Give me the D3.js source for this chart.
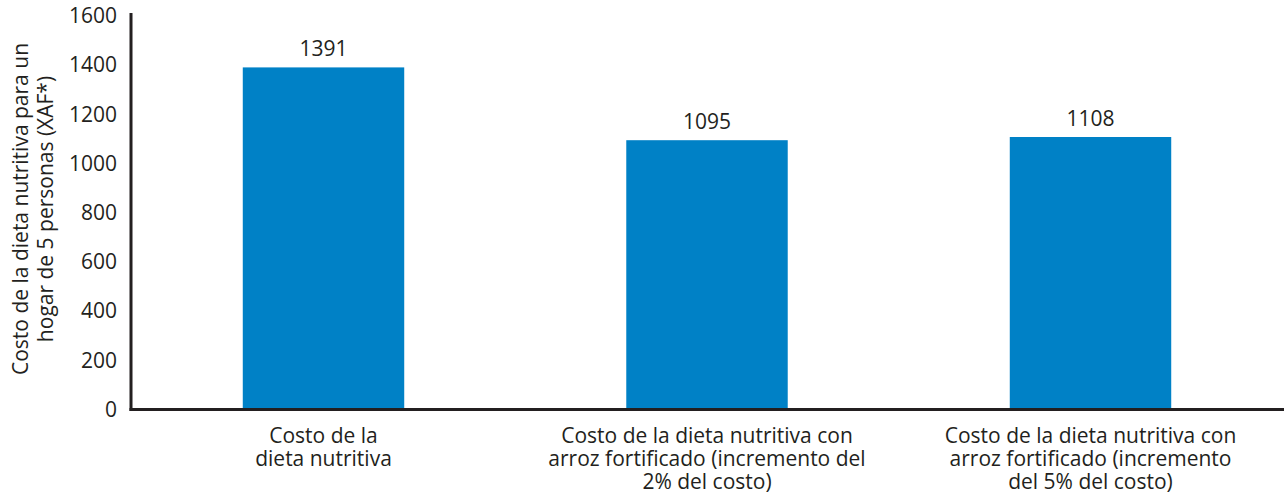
<!DOCTYPE html>
<html>
<head>
<meta charset="utf-8">
<script src="https://cdn.jsdelivr.net/npm/d3@7"></script>
<style>
  html, body { margin: 0; padding: 0; background: #fff; }
  svg { display: block; font-family: "Open Sans", sans-serif; }
</style>
</head>
<body>
<svg id="chart" width="1284" height="492"></svg>
<script>
// Cost of the nutritious diet for a household of 5 (XAF)
const categories = [
  ["Costo de la", "dieta nutritiva"],
  ["Costo de la dieta nutritiva con", "arroz fortificado (incremento del", "2% del costo)"],
  ["Costo de la dieta nutritiva con", "arroz fortificado (incremento", "del 5% del costo)"]
];
const values = [1391, 1095, 1108];
const yTicks = [0, 200, 400, 600, 800, 1000, 1200, 1400, 1600];
const yTitle = ["Costo de la dieta nutritiva para un", "hogar de 5 personas (XAF*)"];

const ink = "#231f20";
const barColor = "#0081c6";
const fontSize = 21;

const svg = d3.select("#chart");

const x = d3.scaleBand()
  .domain(d3.range(values.length))
  .range([131.75, 1282.25])
  .paddingInner(0.579)
  .paddingOuter(0.2895);

const y = d3.scaleLinear()
  .domain([0, 1600])
  .range([409.5, 16]);

// bars
svg.append("g")
  .selectAll("rect")
  .data(values)
  .join("rect")
  .attr("x", (d, i) => x(i))
  .attr("width", x.bandwidth())
  .attr("y", d => y(d))
  .attr("height", d => y(0) - y(d))
  .attr("fill", barColor);

// value labels
svg.append("g")
  .selectAll("text")
  .data(values)
  .join("text")
  .attr("x", (d, i) => x(i) + x.bandwidth() / 2)
  .attr("y", d => y(d) - 11)
  .attr("text-anchor", "middle")
  .attr("font-size", fontSize)
  .attr("fill", ink)
  .text(d => d);

// y axis
const yAxis = svg.append("g")
  .attr("transform", "translate(131,0)")
  .call(d3.axisLeft(y).tickValues(yTicks).tickFormat(d3.format("d")).tickSize(0).tickPadding(14));
yAxis.select(".domain").remove();
yAxis.selectAll("text")
  .attr("font-family", "Open Sans, sans-serif")
  .attr("font-size", fontSize)
  .attr("fill", ink);

svg.append("line")
  .attr("x1", 131).attr("x2", 131)
  .attr("y1", 13).attr("y2", y(0) + 1.5)
  .attr("stroke", ink).attr("stroke-width", 3);

// x axis baseline
svg.append("line")
  .attr("x1", 129.5).attr("x2", 1284)
  .attr("y1", y(0)).attr("y2", y(0))
  .attr("stroke", ink).attr("stroke-width", 3);

// category labels
const cat = svg.append("g")
  .selectAll("text")
  .data(categories)
  .join("text")
  .attr("x", (d, i) => x(i) + x.bandwidth() / 2)
  .attr("y", 443)
  .attr("text-anchor", "middle")
  .attr("font-size", fontSize)
  .attr("fill", ink);
cat.selectAll("tspan")
  .data(d => d)
  .join("tspan")
  .attr("x", function () { return d3.select(this.parentNode).attr("x"); })
  .attr("dy", (d, i) => i === 0 ? 0 : 23)
  .text(d => d);

// y axis title
const title = svg.append("text")
  .attr("transform", "translate(28,209) rotate(-90)")
  .attr("text-anchor", "middle")
  .attr("font-size", fontSize)
  .attr("fill", ink);
title.selectAll("tspan")
  .data(yTitle)
  .join("tspan")
  .attr("x", 0)
  .attr("dy", (d, i) => i === 0 ? 0 : 25)
  .text(d => d);
</script>
</body>
</html>
